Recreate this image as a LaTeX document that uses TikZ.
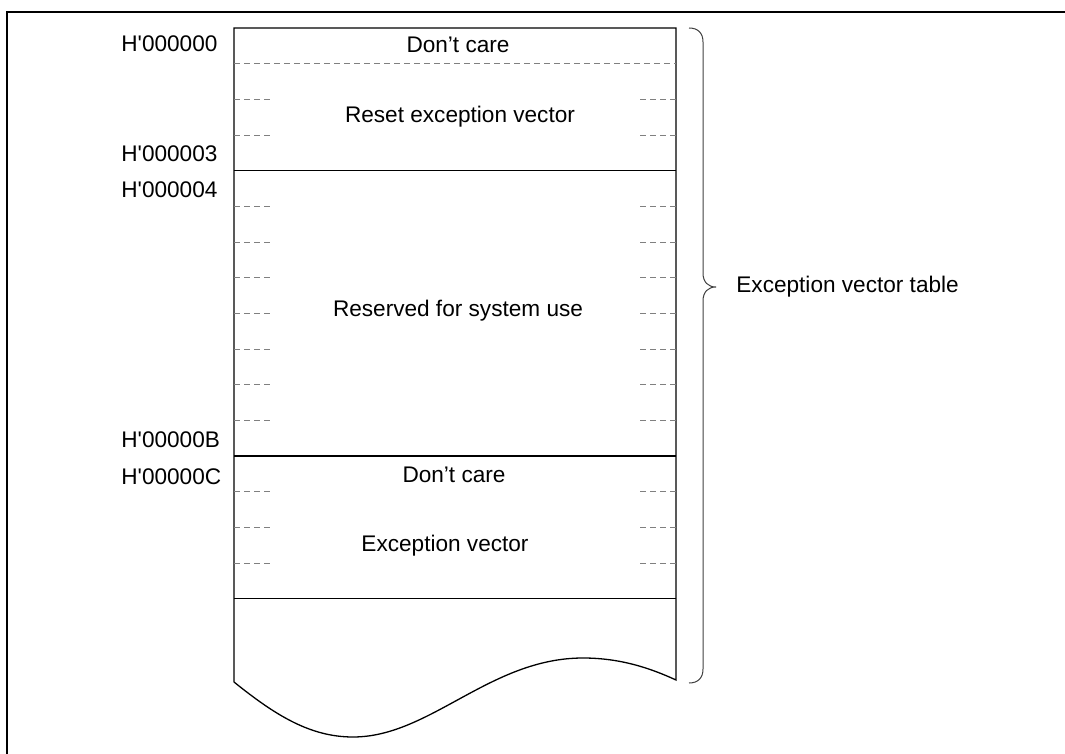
\documentclass[tikz,border=0pt]{standalone}
\usepackage{fontspec}
\setmainfont{Liberation Sans}
\usetikzlibrary{positioning}

\begin{document}
\begin{tikzpicture}[x=0.5pt,y=-0.5pt,
  frameline/.style={line width=1pt,black},
  memline/.style={line width=0.65pt,black},
  sepdash/.style={line width=0.5pt,gray,dash pattern=on 2.75pt off 2.25pt},
  bracepath/.style={line width=0.5pt,black!75},
  lbl/.style={inner sep=0pt,font=\fontsize{11.3}{13.5}\selectfont}]

\useasboundingbox (0,0) rectangle (1065,754);

% outer frame
\draw [frameline] (7,754)--(7,12)--(1065,12);

% memory map outline with torn bottom
\coordinate (tl) at (234,28);
\coordinate (tr) at (676,28);
\coordinate (bl) at (234,682);
\coordinate (br) at (676,680);
\draw [memline] (bl)--(tl)--(tr)--(br)
  .. controls (650,668) and (620,658) .. (583,658)
  .. controls (490,658) and (430,737) .. (353,737)
  .. controls (310,737) and (275,715) .. (bl);

\draw [memline] (234,170.7)--(676,170.7);
\draw [memline] (234,456)--(676,456);
\draw [memline] (234,598.7)--(676,598.7);
\draw [sepdash] (234,63.7)--(676,63.7);

\foreach \k in {2,3,5,6,7,8,9,10,11,13,14,15}
{
  \draw [sepdash] (234,28+\k*35.67)--(270,28+\k*35.67);
  \draw [sepdash] (640,28+\k*35.67)--(676,28+\k*35.67);
}

% addresses
\node [lbl,anchor=west](addr1)  at (121,44) {H\textquotesingle 000000};
\node [lbl,anchor=west](addr2)  at (121,154) {H\textquotesingle 000003};
\node [lbl,anchor=west](addr3)  at (121,190) {H\textquotesingle 000004};
\node [lbl,anchor=west](addr4)  at (121,440) {H\textquotesingle 00000B};
\node [lbl,anchor=west](addr5)  at (121,477) {H\textquotesingle 00000C};

% contents
\node [lbl](care1)  at (458,45) {Don’t care};
\node [lbl](reset)  at (460,117) {Reset exception vector};
\node [lbl](resv)   at (458,311) {Reserved for system use};
\node [lbl](care2)  at (454,475) {Don’t care};
\node [lbl](vect)   at (445,546) {Exception vector};

% brace and table label
\coordinate (tip) at (716,287);
\draw [bracepath] (689,28) .. controls (698,28) and (703,33) .. (703,42)
  --(703,273) .. controls (703,282) and (708,287) .. (tip)
  .. controls (708,287) and (703,292) .. (703,301)
  --(703,669) .. controls (703,678) and (698,683) .. (689,683);
\node [lbl,anchor=west](table)  at ([xshift=10pt]tip) {Exception vector table};

\end{tikzpicture}
\end{document}
